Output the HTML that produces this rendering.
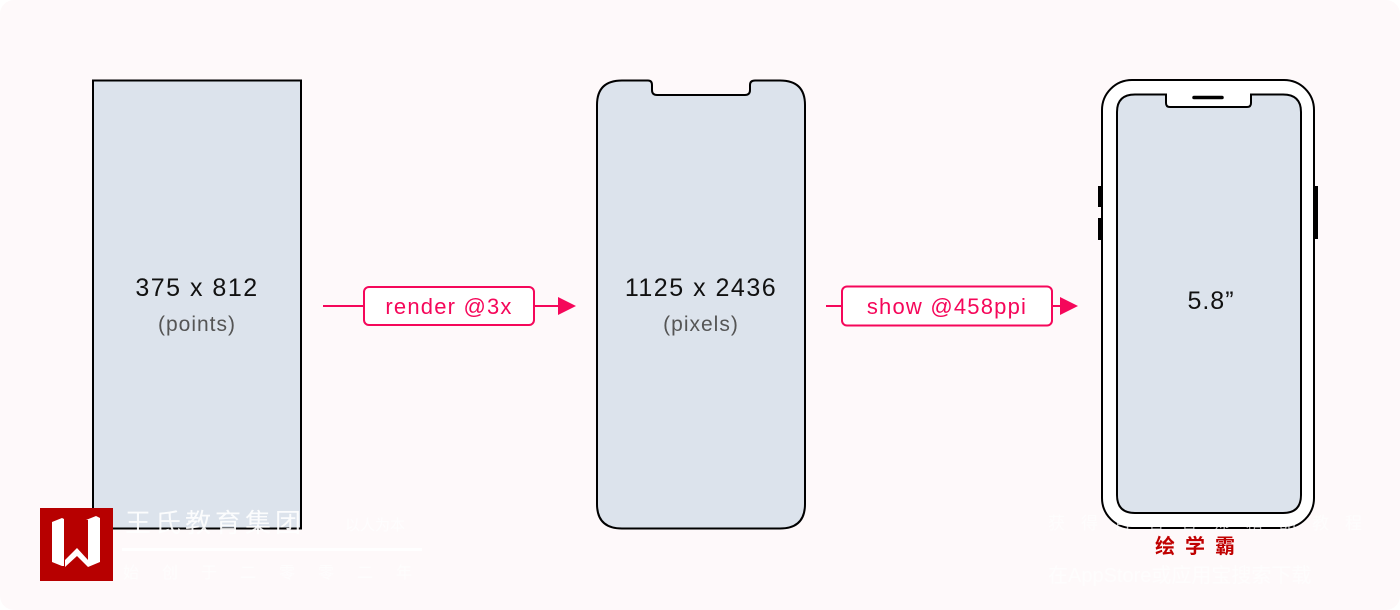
<!DOCTYPE html>
<html><head><meta charset="utf-8"><style>
html,body{margin:0;padding:0;background:#fff;}
svg{display:block;}
text{font-family:"Liberation Sans","Noto Sans CJK SC",sans-serif;}
</style></head><body>
<svg width="1400" height="610" viewBox="0 0 1400 610" xmlns="http://www.w3.org/2000/svg">
<rect x="0" y="0" width="1400" height="610" rx="14" fill="#fef9fa"/>
<!-- left rect -->
<rect x="93" y="80.5" width="208" height="448" fill="#dce3ec" stroke="#000" stroke-width="2"/>
<text x="197" y="296" font-size="25" letter-spacing="1.5" text-anchor="middle" fill="#111">375 x 812</text>
<text x="197" y="331" font-size="21" letter-spacing="1" text-anchor="middle" fill="#555">(points)</text>
<!-- middle phone -->
<path d="M622 80.5 H648 Q652 80.5 652 85 V90 Q652 95 657 95 H745 Q750 95 750 90 V85 Q750 80.5 755 80.5 H780 Q805 80.5 805 105 V504 Q805 528.5 780 528.5 H622 Q597 528.5 597 504 V105 Q597 80.5 622 80.5 Z" fill="#dce3ec" stroke="#000" stroke-width="2"/>
<text x="701" y="296" font-size="25" letter-spacing="1.5" text-anchor="middle" fill="#111">1125 x 2436</text>
<text x="701" y="331" font-size="21" letter-spacing="1" text-anchor="middle" fill="#555">(pixels)</text>
<!-- right phone -->
<rect x="1098" y="186" width="5" height="21" fill="#000"/>
<rect x="1098" y="218" width="5" height="22" fill="#000"/>
<rect x="1313" y="186" width="5" height="53" fill="#000"/>
<rect x="1102" y="80" width="212" height="448" rx="30" fill="#fff" stroke="#000" stroke-width="2"/>
<path d="M1135 94.5 H1166 V103 Q1166 107 1170 107 H1247 Q1251 107 1251 103 V94.5 H1283 Q1301 94.5 1301 112 V495 Q1301 513 1283 513 H1135 Q1117 513 1117 495 V112 Q1117 94.5 1135 94.5 Z" fill="#dce3ec" stroke="#000" stroke-width="2"/>
<line x1="1194" y1="97.5" x2="1222" y2="97.5" stroke="#000" stroke-width="3.5" stroke-linecap="round"/>
<text x="1211" y="309" font-size="25" letter-spacing="1" text-anchor="middle" fill="#111">5.8”</text>
<!-- arrow 1 -->
<line x1="323" y1="306" x2="365" y2="306" stroke="#f5075a" stroke-width="2"/>
<rect x="364" y="287" width="170" height="38" rx="5" fill="#fff" stroke="#f5075a" stroke-width="2"/>
<text x="449" y="314" font-size="22" letter-spacing="1.2" text-anchor="middle" fill="#f5075a">render @3x</text>
<line x1="534" y1="306" x2="560" y2="306" stroke="#f5075a" stroke-width="2"/>
<path d="M558 297 L576 306 L558 315 Z" fill="#f5075a"/>
<!-- arrow 2 -->
<line x1="826" y1="306" x2="843" y2="306" stroke="#f5075a" stroke-width="2"/>
<rect x="842" y="286.5" width="210" height="39" rx="5" fill="#fff" stroke="#f5075a" stroke-width="2"/>
<text x="947" y="314" font-size="22" letter-spacing="1.2" text-anchor="middle" fill="#f5075a">show @458ppi</text>
<line x1="1052" y1="306" x2="1062" y2="306" stroke="#f5075a" stroke-width="2"/>
<path d="M1060 297 L1078 306 L1060 315 Z" fill="#f5075a"/>
<!-- watermark left -->
<rect x="40" y="508" width="73" height="73" fill="#b70000"/>
<path d="M52 522 L62 518 L62 566 L52 562 Z M62 518 L64 519 L64 566 L62 566 Z M65 560 L77 548 L88 560 L88 567 L77 556 L65 567 Z M86 520 L96 516 L100 518 L100 562 L88 567 L88 520 Z" fill="#fff"/>
<text x="125" y="532" font-size="26" fill="#fff" opacity="0.9" letter-spacing="4">王氏教育集团</text>
<text x="345" y="530" font-size="15" fill="#fff" opacity="0.8">以人为本</text>
<rect x="122" y="548" width="300" height="3" fill="#fff" opacity="0.9"/>
<text x="123" y="578" font-size="16" fill="#fff" opacity="0.7" letter-spacing="23">始创于二零零二年</text>
<!-- watermark right -->
<text x="1048" y="529" font-size="17" fill="#fff" opacity="0.7" letter-spacing="16">获得百名名师精品教程</text>
<text x="1200" y="553" font-size="20" font-weight="bold" text-anchor="middle" fill="#c00000" letter-spacing="10">绘学霸</text>
<text x="1048" y="582" font-size="20" fill="#fff" opacity="0.7">在AppStore或应用宝搜索下载</text>
</svg>
</body></html>
